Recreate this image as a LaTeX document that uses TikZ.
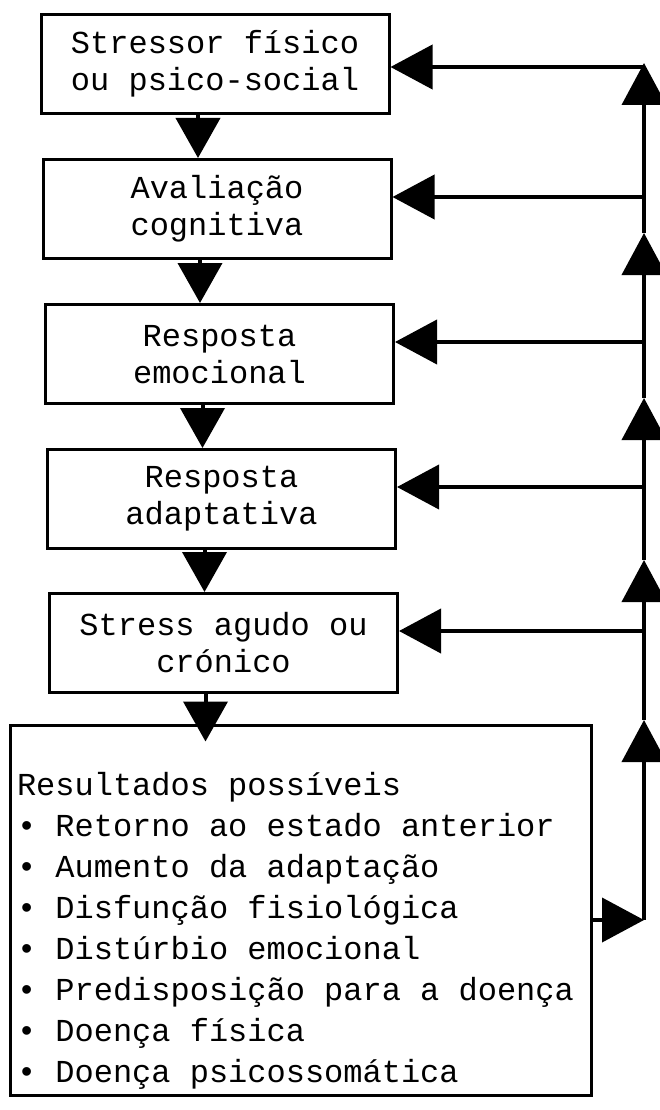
\documentclass[tikz,border=0pt]{standalone}
\usepackage{fontspec}
\setmonofont{Liberation Mono}
\usetikzlibrary{arrows.meta}

\tikzset{
  stagebox/.style={draw=black,line width=3pt,minimum width=348pt,minimum height=99pt,inner sep=0pt,align=center,font=\ttfamily\fontsize{32}{37}\selectfont},
  resultbox/.style={draw=black,line width=3pt,minimum width=581pt,minimum height=370pt,inner sep=0pt},
  listline/.style={inner sep=0pt,outer sep=0pt,anchor=base west,font=\ttfamily\fontsize{32}{38}\selectfont},
  downarrow/.style={line width=4pt,-{Triangle[length=40pt,width=44pt]}},
  feedarrow/.style={line width=4pt,-{Triangle[length=42pt,width=44pt]}}
}

\begin{document}
\begin{tikzpicture}[x=1pt,y=-1pt]
\path[use as bounding box,fill=white] (0,0) rectangle (659,1110);
% stages
\node[stagebox] (b1) at (215,64) {Stressor físico\\ou psico-social};
\node[stagebox] (b2) at (217,209) {Avaliação\\cognitiva};
\node[stagebox] (b3) at (219.5,354) {Resposta\\emocional};
\node[stagebox] (b4) at (221.5,499) {Resposta\\adaptativa};
\node[stagebox] (b5) at (223.5,643) {Stress agudo ou\\crónico};
% outcomes
\node[resultbox] (b6) at (300.75,910) {};
\foreach \txt [count=\i from 0] in {Resultados possíveis,• Retorno ao estado anterior,• Aumento da adaptação,• Disfunção fisiológica,• Distúrbio emocional,• Predisposição para a doença,• Doença física,• Doença psicossomática}
  \node[listline] (l\i) at (17,{795+41*\i}) {\txt};
% downward chain
\foreach \a/\b in {b1/b2,b2/b3,b3/b4,b4/b5}
  \draw[downarrow] ([xshift=-17pt]\a.south) -- ([xshift=-17pt]\a.south |- \b.north);
\draw[downarrow,shorten >=-18pt] ([xshift=-18pt]b5.south) -- ([xshift=-18pt]b5.south |- b6.north);
% feedback loop
\coordinate (r0) at (644,920);
\coordinate (u5) at (644,720);
\coordinate (u4) at (644,560);
\coordinate (u3) at (644,398);
\coordinate (u2) at (644,233);
\coordinate (u1) at (644,63);
\draw[feedarrow] (r0 -| b6.east) -- (r0);
\draw[feedarrow] (r0) -- (u5);
\draw[feedarrow] (u5) -- (u4);
\draw[feedarrow] (u4) -- (u3);
\draw[feedarrow] (u3) -- (u2);
\draw[feedarrow] (u2) -- (u1);
\coordinate (f1) at (644,67);
\coordinate (f2) at (644,197);
\coordinate (f3) at (644,342);
\coordinate (f4) at (644,487);
\coordinate (f5) at (644,631);
\foreach \k in {1,...,5}
  \draw[feedarrow] (f\k) -- (f\k -| b\k.east);
\end{tikzpicture}
\end{document}
